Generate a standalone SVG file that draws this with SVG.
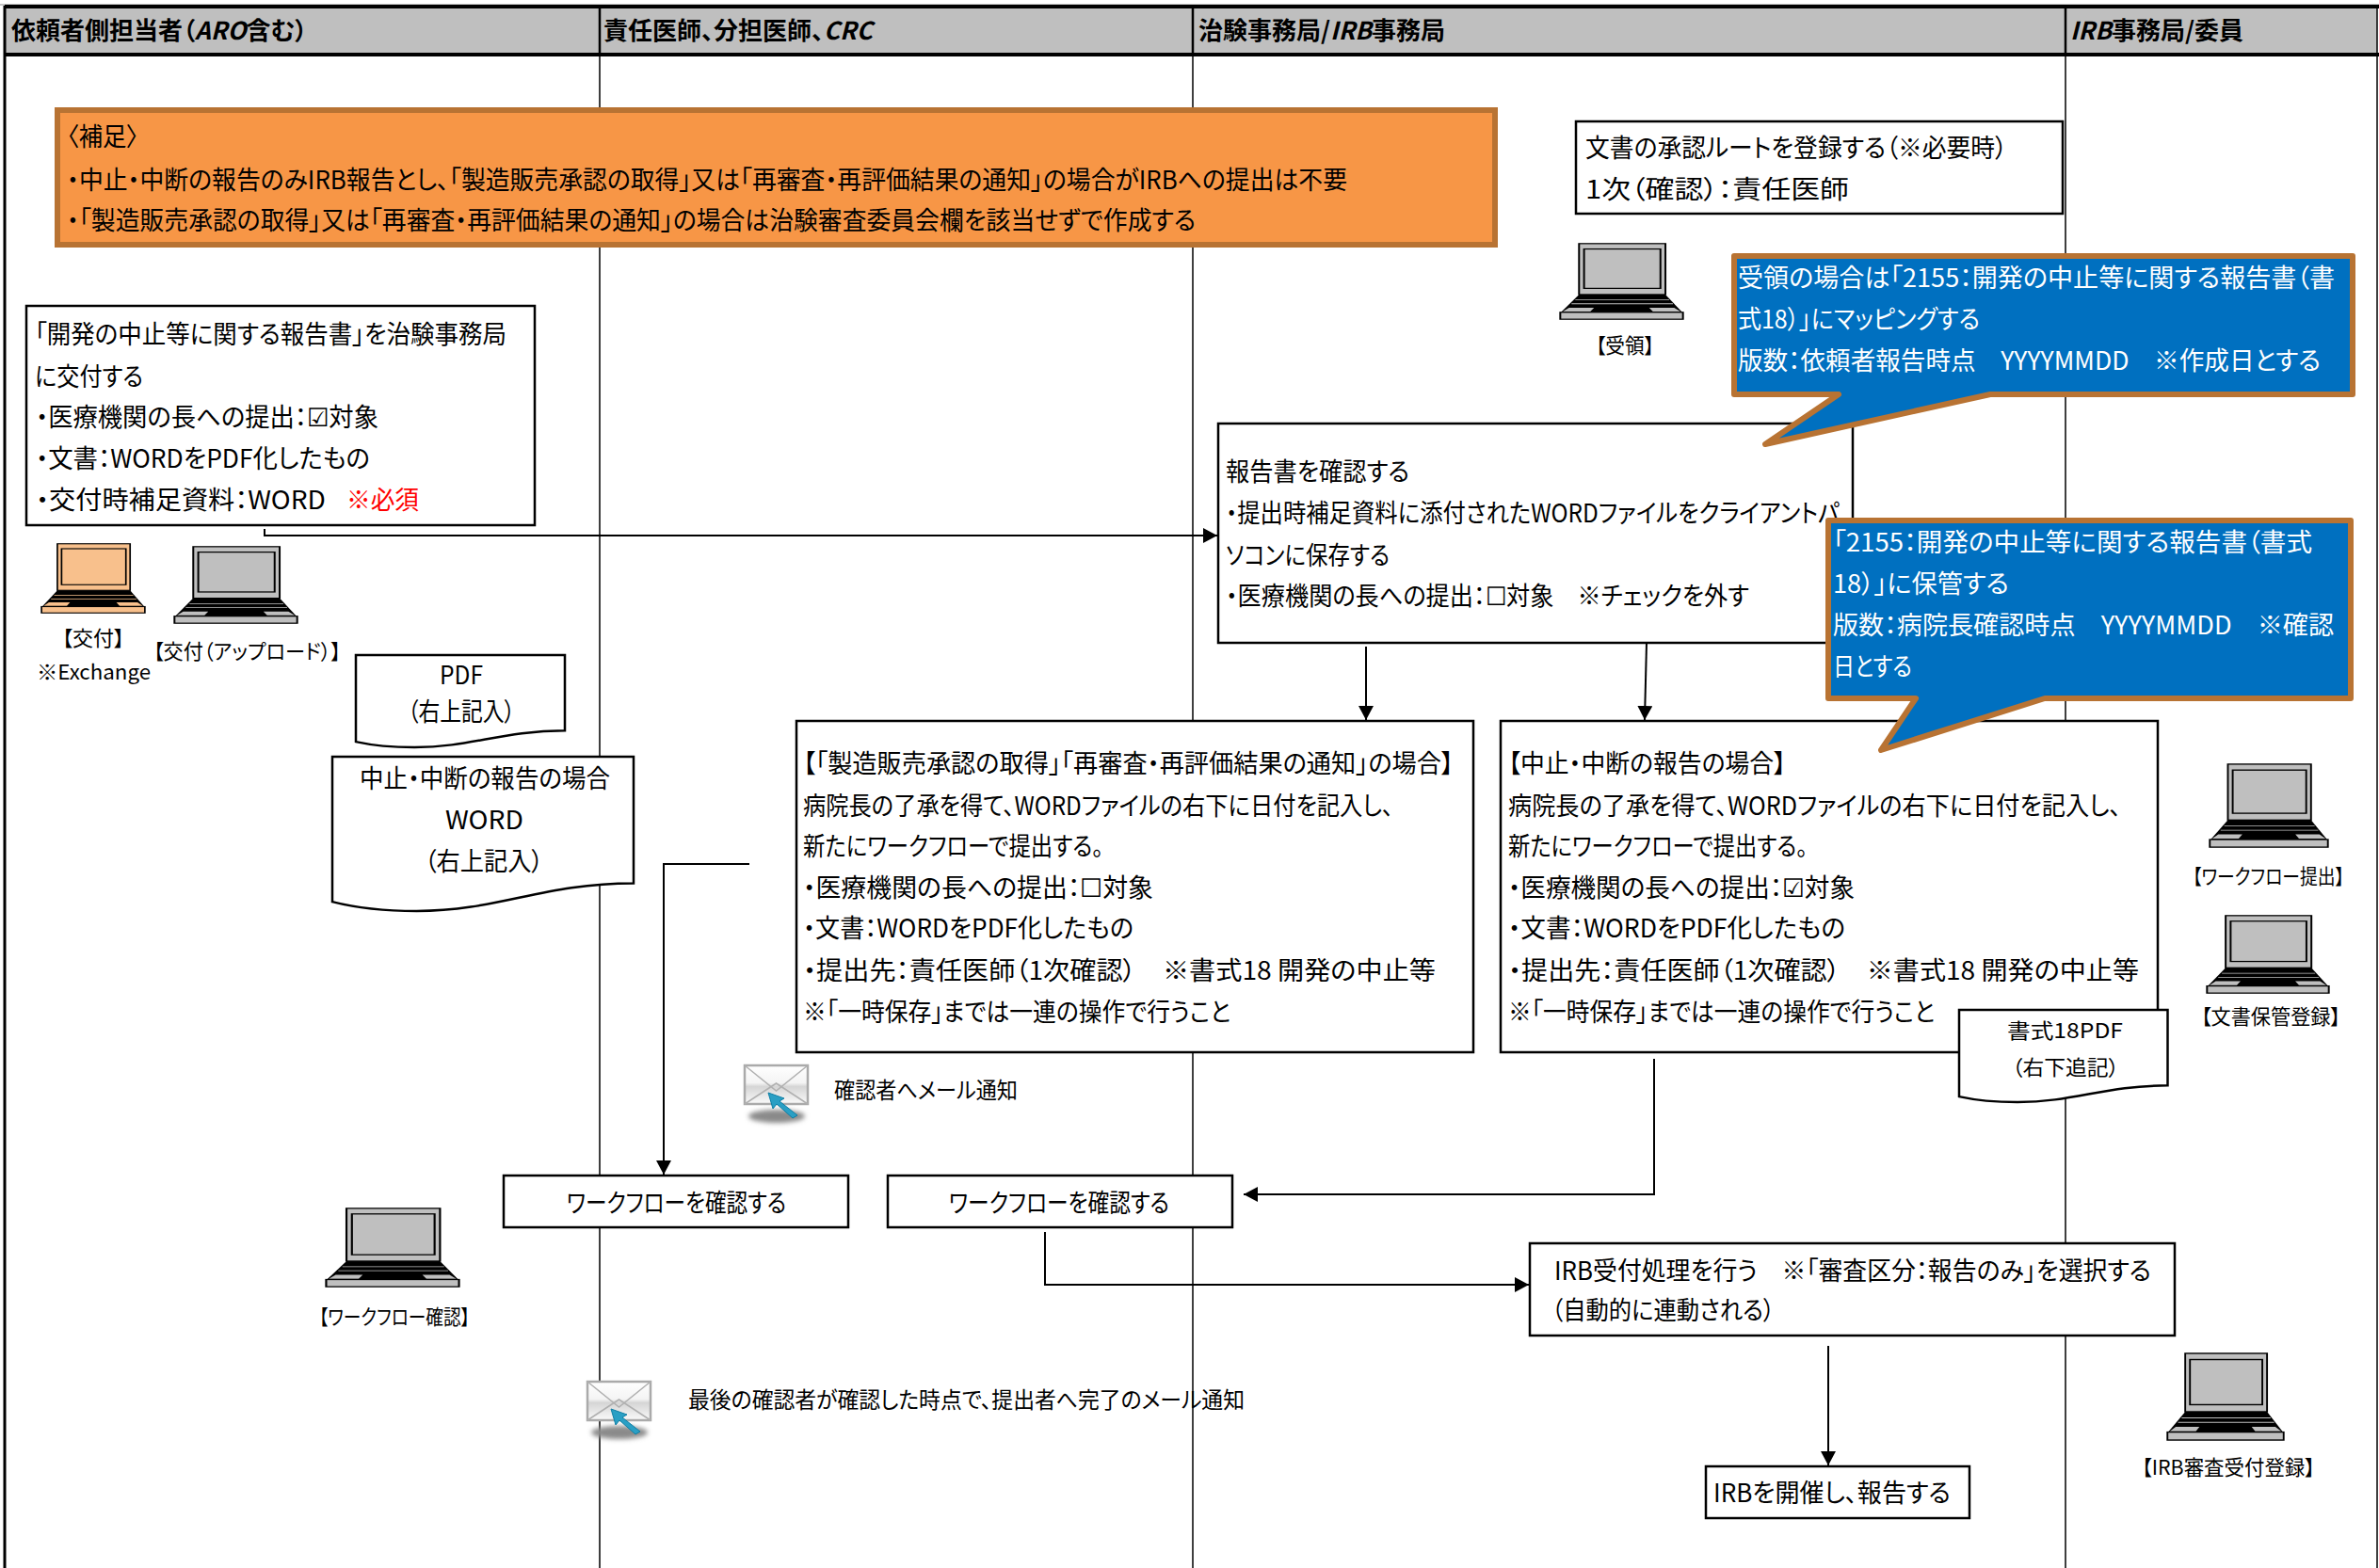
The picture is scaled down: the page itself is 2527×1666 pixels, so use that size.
<svg xmlns="http://www.w3.org/2000/svg" xmlns:xlink="http://www.w3.org/1999/xlink" width="2527" height="1666" viewBox="0 0 2527 1666">
<style>
text{font-family:"Noto Sans CJK JP","Noto Sans",sans-serif;fill:#000;font-feature-settings:"palt"}
.t{font-size:27px}.s{font-size:22px}.m{font-size:24px}.h{font-size:26px;font-weight:700}
.w{fill:#fff}.r{fill:#f00}
.it{font-style:italic}
.box{fill:#fff;stroke:#000;stroke-width:2.5}
.doc{fill:#fff;stroke:#000;stroke-width:2.5;vector-effect:non-scaling-stroke}
.lane{stroke:#000;stroke-width:1.5;fill:none}
.c{stroke:#000;stroke-width:2;fill:none}
.call{fill:#0070C0;stroke:#B87333;stroke-width:6;stroke-linejoin:round}
.lap{color:#BFBFBF}.lapo{color:#F8C08C}
</style>
<defs>
<marker id="ah" markerUnits="userSpaceOnUse" markerWidth="16" markerHeight="16" refX="15" refY="8" orient="auto"><path d="M0,0L15,8L0,16Z" fill="#000"/></marker>
<linearGradient id="mg" x1="0" y1="0" x2="0" y2="1"><stop offset="0" stop-color="#fff"/><stop offset=".45" stop-color="#f4f4f4"/><stop offset=".55" stop-color="#d5d5d5"/><stop offset="1" stop-color="#fafafa"/></linearGradient>
<filter id="bl" x="-30%" y="-60%" width="160%" height="220%"><feGaussianBlur stdDeviation="2.5"/></filter>
<path id="wave" class="doc" d="M0,0H100V82C70,82 55,100 28,100C17,100 8,98 0,94Z"/>
<symbol id="laptop" viewBox="0 0 100 100" preserveAspectRatio="none">
<rect x="16" y="1" width="69" height="66" fill="currentColor" stroke="#000" stroke-width="1.5"/>
<rect x="20" y="8" width="61" height="51" fill="currentColor" stroke="#000" stroke-width="1.5"/>
<path d="M16,67H85L99,91H1Z" fill="#000"/>
<path d="M13,74H88M10,79H91" stroke="currentColor" stroke-width="1" fill="none"/>
<path d="M8,84H28L25,89H3ZM72,84H92L97,89H75Z" fill="currentColor"/>
<rect x="1" y="90" width="98" height="9" fill="currentColor" stroke="#000" stroke-width="1.5"/>
</symbol>
<symbol id="mail" viewBox="0 0 70 66" overflow="visible">
<ellipse cx="35" cy="55" rx="30" ry="7" fill="#8a8a8a" filter="url(#bl)"/>
<rect x="1" y="1" width="67" height="41" fill="url(#mg)" stroke="#aaa" stroke-width="2.5"/>
<path d="M1,1L34.500,28L68,1M1,42L34.500,20L68,42" fill="none" stroke="#b0b0b0" stroke-width="1.5"/>
<path d="M26,30L43,36L38,39L57,54L52,57L35,42L31,47Z" fill="#2a9fc4" stroke="#0f7fa5" stroke-width="1"/>
</symbol>
</defs>
<rect width="2527" height="1666" fill="#fff"/>

<g id="lanes">
<rect x="5" y="6" width="2520" height="52" fill="#BFBFBF"/>
<path d="M0,5H2527" stroke="#888" stroke-width="1"/>
<path d="M5,7H2527M5,58H2527" stroke="#000" stroke-width="4"/>
<path d="M5,6V1666" stroke="#000" stroke-width="3"/>
<path d="M637,6V58M1267,6V58M2194,6V58" stroke="#000" stroke-width="2.500"/>
<path class="lane" d="M637,58V1666M1267,58V1666M2194,58V1666M2525,6V1666"/>
<text class="h" x="12" y="42">依頼者側担当者（<tspan class="it">ARO</tspan>含む）</text>
<text class="h" x="641" y="42">責任医師、分担医師、<tspan class="it">CRC</tspan></text>
<text class="h" x="1273" y="42">治験事務局/<tspan class="it">IRB</tspan>事務局</text>
<text class="h" x="2199" y="42"><tspan class="it">IRB</tspan>事務局/委員</text>
</g>

<g id="note">
<rect x="61" y="117" width="1527" height="143" fill="#F79646" stroke="#B87333" stroke-width="6"/>
<text class="t" x="71" y="155" textLength="76" lengthAdjust="spacingAndGlyphs">〈補足〉</text>
<text class="t" x="71" y="201" textLength="1360" lengthAdjust="spacingAndGlyphs">・中止・中断の報告のみIRB報告とし、「製造販売承認の取得」又は「再審査・再評価結果の通知」の場合がIRBへの提出は不要</text>
<text class="t" x="71" y="244" textLength="1199" lengthAdjust="spacingAndGlyphs">・「製造販売承認の取得」又は「再審査・再評価結果の通知」の場合は治験審査委員会欄を該当せずで作成する</text>
</g>

<g id="connectors">
<path class="c" d="M281,562V569H1293" marker-end="url(#ah)"/>
<path class="c" d="M1451,687V765" marker-end="url(#ah)"/>
<path class="c" d="M1749,683L1747,765" marker-end="url(#ah)"/>
<path class="c" d="M796,918H705V1248" marker-end="url(#ah)"/>
<path class="c" d="M1757,1125V1269H1321" marker-end="url(#ah)"/>
<path class="c" d="M1110,1309V1365H1624" marker-end="url(#ah)"/>
<path class="c" d="M1942,1430V1557" marker-end="url(#ah)"/>
</g>

<g id="n-submit">
<rect class="box" x="28" y="325" width="540" height="233"/>
<text class="t" x="37" y="365" textLength="501" lengthAdjust="spacingAndGlyphs">「開発の中止等に関する報告書」を治験事務局</text>
<text class="t" x="37" y="410" textLength="115" lengthAdjust="spacingAndGlyphs">に交付する</text>
<text class="t" x="38" y="453" textLength="364" lengthAdjust="spacingAndGlyphs">・医療機関の長への提出：☑対象</text>
<text class="t" x="38" y="497" textLength="355" lengthAdjust="spacingAndGlyphs">・文書：WORDをPDF化したもの</text>
<text class="t" x="38" y="541" textLength="308" lengthAdjust="spacingAndGlyphs">・交付時補足資料：WORD</text>
<text class="t r" x="368" y="541" textLength="77" lengthAdjust="spacingAndGlyphs">※必須</text>
</g>

<g id="n-pc-kofu">
<use href="#laptop" class="lapo" x="43" y="577" width="112" height="75"/>
<text class="s" x="66" y="686" textLength="66" lengthAdjust="spacingAndGlyphs">【交付】</text>
<text class="s" x="39" y="722" textLength="121" lengthAdjust="spacingAndGlyphs">※Exchange</text>
</g>
<g id="n-pc-upload">
<use href="#laptop" class="lap" x="184" y="580" width="133" height="83"/>
<text class="s" x="163" y="700" textLength="199" lengthAdjust="spacingAndGlyphs">【交付（アップロード）】</text>
</g>

<g id="n-doc-pdf">
<use href="#wave" transform="translate(378,696) scale(2.22,.98)"/>
<text class="t" x="467" y="727" textLength="46" lengthAdjust="spacingAndGlyphs">PDF</text>
<text class="t" x="433" y="766" textLength="114" lengthAdjust="spacingAndGlyphs">（右上記入）</text>
</g>
<g id="n-doc-word">
<use href="#wave" transform="translate(353,804) scale(3.2,1.64)"/>
<text class="t" x="382" y="837" textLength="266" lengthAdjust="spacingAndGlyphs">中止・中断の報告の場合</text>
<text class="t" x="473" y="881" textLength="83" lengthAdjust="spacingAndGlyphs">WORD</text>
<text class="t" x="451" y="925" textLength="126" lengthAdjust="spacingAndGlyphs">（右上記入）</text>
</g>

<g id="n-route">
<rect class="box" x="1674" y="129" width="517" height="98"/>
<text class="t" x="1684" y="167" textLength="448" lengthAdjust="spacingAndGlyphs">文書の承認ルートを登録する（※必要時）</text>
<text class="t" x="1684" y="211" textLength="280" lengthAdjust="spacingAndGlyphs">1次（確認）：責任医師</text>
</g>
<g id="n-pc-receive">
<use href="#laptop" class="lap" x="1656" y="258" width="133" height="82"/>
<text class="s" x="1695" y="375" textLength="62" lengthAdjust="spacingAndGlyphs">【受領】</text>
</g>

<g id="n-report">
<rect class="box" x="1294" y="450" width="674" height="233"/>
<text class="t" x="1302" y="511" textLength="195" lengthAdjust="spacingAndGlyphs">報告書を確認する</text>
<text class="t" x="1302" y="555" textLength="652" lengthAdjust="spacingAndGlyphs">・提出時補足資料に添付されたWORDファイルをクライアントパ</text>
<text class="t" x="1302" y="600" textLength="174" lengthAdjust="spacingAndGlyphs">ソコンに保存する</text>
<text class="t" x="1302" y="643" textLength="556" lengthAdjust="spacingAndGlyphs">・医療機関の長への提出：☐対象　※チェックを外す</text>
</g>

<g id="n-callout1">
<path class="call" d="M1842,272H2499V419H2114L1875,472L1953,419H1842Z"/>
<text class="t w" x="1846" y="305" textLength="634" lengthAdjust="spacingAndGlyphs">受領の場合は「2155：開発の中止等に関する報告書（書</text>
<text class="t w" x="1846" y="349" textLength="257" lengthAdjust="spacingAndGlyphs">式18）」にマッピングする</text>
<text class="t w" x="1846" y="393" textLength="619" lengthAdjust="spacingAndGlyphs">版数：依頼者報告時点　YYYYMMDD　※作成日とする</text>
</g>

<g id="n-left">
<rect class="box" x="846" y="766" width="719" height="352"/>
<text class="t" x="853" y="821" textLength="691" lengthAdjust="spacingAndGlyphs">【「製造販売承認の取得」「再審査・再評価結果の通知」の場合】</text>
<text class="t" x="853" y="866" textLength="627" lengthAdjust="spacingAndGlyphs">病院長の了承を得て、WORDファイルの右下に日付を記入し、</text>
<text class="t" x="853" y="909" textLength="319" lengthAdjust="spacingAndGlyphs">新たにワークフローで提出する。</text>
<text class="t" x="853" y="953" textLength="372" lengthAdjust="spacingAndGlyphs">・医療機関の長への提出：☐対象</text>
<text class="t" x="853" y="996" textLength="351" lengthAdjust="spacingAndGlyphs">・文書：WORDをPDF化したもの</text>
<text class="t" x="853" y="1041" textLength="672" lengthAdjust="spacingAndGlyphs">・提出先：責任医師（1次確認）　※書式18 開発の中止等</text>
<text class="t" x="853" y="1085" textLength="454" lengthAdjust="spacingAndGlyphs">※「一時保存」までは一連の操作で行うこと</text>
</g>

<g id="n-right">
<rect class="box" x="1594" y="766" width="698" height="352"/>
<text class="t" x="1602" y="821" textLength="295" lengthAdjust="spacingAndGlyphs">【中止・中断の報告の場合】</text>
<text class="t" x="1602" y="866" textLength="651" lengthAdjust="spacingAndGlyphs">病院長の了承を得て、WORDファイルの右下に日付を記入し、</text>
<text class="t" x="1602" y="909" textLength="318" lengthAdjust="spacingAndGlyphs">新たにワークフローで提出する。</text>
<text class="t" x="1602" y="953" textLength="368" lengthAdjust="spacingAndGlyphs">・医療機関の長への提出：☑対象</text>
<text class="t" x="1602" y="996" textLength="358" lengthAdjust="spacingAndGlyphs">・文書：WORDをPDF化したもの</text>
<text class="t" x="1602" y="1041" textLength="670" lengthAdjust="spacingAndGlyphs">・提出先：責任医師（1次確認）　※書式18 開発の中止等</text>
<text class="t" x="1602" y="1085" textLength="453" lengthAdjust="spacingAndGlyphs">※「一時保存」までは一連の操作で行うこと</text>
</g>

<g id="n-callout2">
<path class="call" d="M1942,553H2497V742H2172L1998,797L2035,742H1942Z"/>
<text class="t w" x="1947" y="586" textLength="509" lengthAdjust="spacingAndGlyphs">「2155：開発の中止等に関する報告書（書式</text>
<text class="t w" x="1947" y="630" textLength="187" lengthAdjust="spacingAndGlyphs">18）」に保管する</text>
<text class="t w" x="1947" y="674" textLength="532" lengthAdjust="spacingAndGlyphs">版数：病院長確認時点　YYYYMMDD　※確認</text>
<text class="t w" x="1947" y="718" textLength="84" lengthAdjust="spacingAndGlyphs">日とする</text>
</g>

<g id="n-doc-18">
<use href="#wave" transform="translate(2081,1073) scale(2.215,.98)"/>
<text class="s" x="2132" y="1103" textLength="123" lengthAdjust="spacingAndGlyphs">書式18PDF</text>
<text class="s" x="2137" y="1142" textLength="114" lengthAdjust="spacingAndGlyphs">（右下追記）</text>
</g>

<g id="n-pc-wfsubmit">
<use href="#laptop" class="lap" x="2346" y="811" width="128" height="90"/>
<text class="s" x="2329" y="939" textLength="161" lengthAdjust="spacingAndGlyphs">【ワークフロー提出】</text>
</g>
<g id="n-pc-store">
<use href="#laptop" class="lap" x="2343" y="972" width="132" height="84"/>
<text class="s" x="2338" y="1088" textLength="148" lengthAdjust="spacingAndGlyphs">【文書保管登録】</text>
</g>

<g id="n-mail1">
<use href="#mail" x="790" y="1131" width="70" height="66"/>
<text class="m" x="886" y="1167" textLength="195" lengthAdjust="spacingAndGlyphs">確認者へメール通知</text>
</g>

<g id="n-wf1">
<rect class="box" x="535" y="1249" width="366" height="55"/>
<text class="t" x="602" y="1288" textLength="233" lengthAdjust="spacingAndGlyphs">ワークフローを確認する</text>
</g>
<g id="n-wf2">
<rect class="box" x="943" y="1249" width="366" height="55"/>
<text class="t" x="1008" y="1288" textLength="234" lengthAdjust="spacingAndGlyphs">ワークフローを確認する</text>
</g>
<g id="n-pc-wfcheck">
<use href="#laptop" class="lap" x="345" y="1283" width="144" height="85"/>
<text class="s" x="339" y="1407" textLength="160" lengthAdjust="spacingAndGlyphs">【ワークフロー確認】</text>
</g>

<g id="n-irb">
<rect class="box" x="1625" y="1321" width="685" height="98"/>
<text class="t" x="1651" y="1360" textLength="634" lengthAdjust="spacingAndGlyphs">IRB受付処理を行う　※「審査区分：報告のみ」を選択する</text>
<text class="t" x="1648" y="1402" textLength="237" lengthAdjust="spacingAndGlyphs">（自動的に連動される）</text>
</g>
<g id="n-mail2">
<use href="#mail" x="623" y="1467" width="70" height="66"/>
<text class="m" x="731" y="1496" textLength="591" lengthAdjust="spacingAndGlyphs">最後の確認者が確認した時点で、提出者へ完了のメール通知</text>
</g>
<g id="n-pc-irb">
<use href="#laptop" class="lap" x="2301" y="1437" width="126" height="94"/>
<text class="s" x="2275" y="1567" textLength="184" lengthAdjust="spacingAndGlyphs">【IRB審査受付登録】</text>
</g>
<g id="n-meeting">
<rect class="box" x="1812" y="1558" width="280" height="55"/>
<text class="t" x="1820" y="1596" textLength="252" lengthAdjust="spacingAndGlyphs">IRBを開催し、報告する</text>
</g>
</svg>
